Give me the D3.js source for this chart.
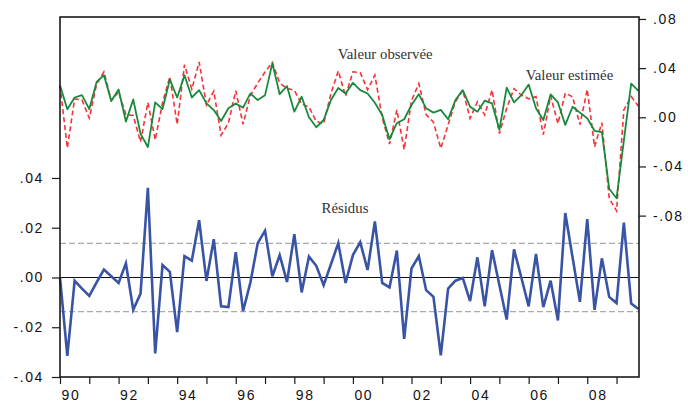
<!DOCTYPE html>
<html>
<head>
<meta charset="utf-8">
<script src="https://cdn.jsdelivr.net/npm/d3@7"></script>
<style>
  html, body { margin: 0; padding: 0; background: #fff; }
  svg { display: block; }
</style>
</head>
<body>
<svg id="chart" width="688" height="403"></svg>
<script>
// ---- data (quarterly, 1990Q1 – 2009Q4) ----
const startYear = 1990;
const nQuarters = 80;
const periods = d3.range(nQuarters).map(i => startYear + i / 4);

const residuals = [
  0.000, -0.0315, -0.0013, -0.0045, -0.0074, -0.0020, 0.0032, 0.0005, -0.0022, 0.0057,
  -0.0130, -0.0065, 0.0360, -0.0305, 0.0050, 0.0023, -0.0220, 0.0086, 0.0068, 0.0230,
  -0.0014, 0.0154, -0.0116, -0.0119, 0.0102, -0.0135, -0.0020, 0.0138, 0.0188, 0.0005,
  0.0090, -0.0018, 0.0174, -0.0060, 0.0084, 0.0047, -0.0031, 0.0053, 0.0138, -0.0022,
  0.0090, 0.0142, 0.0030, 0.0225, -0.0022, -0.0040, 0.0108, -0.0247, 0.0036, 0.0086,
  -0.0051, -0.0078, -0.0313, -0.0045, -0.0013, -0.0002, -0.0095, 0.0081, -0.0116, 0.0110,
  -0.0030, -0.0169, 0.0113, 0.0000, -0.0116, 0.0095, -0.0119, -0.0013, -0.0173, 0.0259,
  0.0080, -0.0098, 0.0235, -0.0130, 0.0077, -0.0078, -0.0103, 0.0221, -0.0105, -0.0127
];

const actual = [
  0.0260, -0.0250, 0.0150, 0.0140, -0.0007, 0.0270, 0.0370, 0.0137, 0.0204, 0.0022,
  0.0015, -0.0200, 0.0120, -0.0184, 0.0117, 0.0330, -0.0059, 0.0428, 0.0229, 0.0450,
  0.0099, 0.0213, -0.0146, -0.0046, 0.0216, -0.0057, 0.0178, 0.0278, 0.0368, 0.0446,
  0.0278, 0.0235, 0.0220, 0.0107, 0.0084, -0.0034, -0.0053, 0.0193, 0.0377, 0.0172,
  0.0370, 0.0363, 0.0224, 0.0343, -0.0003, -0.0218, 0.0060, -0.0263, 0.0136, 0.0274,
  0.0022, -0.0040, -0.0253, -0.0061, 0.0127, 0.0219, -0.0009, 0.0127, 0.0019, 0.0223,
  -0.0132, 0.0073, 0.0234, 0.0180, 0.0150, 0.0168, -0.0141, 0.0173, -0.0052, 0.0197,
  0.0166, -0.0060, 0.0227, -0.0240, -0.0044, -0.0659, -0.0762, 0.0060, 0.0169, 0.0090
];

const fitted = [
  0.0261, 0.0065, 0.0161, 0.0180, 0.0067, 0.0288, 0.0342, 0.0132, 0.0226, -0.0035,
  0.0145, -0.0135, -0.0242, 0.0121, 0.0067, 0.0307, 0.0161, 0.0342, 0.0161, 0.0221,
  0.0113, 0.0059, -0.0030, 0.0073, 0.0113, 0.0078, 0.0194, 0.0140, 0.0180, 0.0441,
  0.0188, 0.0253, 0.0046, 0.0167, 0.0000, -0.0081, -0.0022, 0.0140, 0.0239, 0.0194,
  0.0280, 0.0221, 0.0194, 0.0118, 0.0019, -0.0178, -0.0048, -0.0016, 0.0100, 0.0188,
  0.0073, 0.0038, 0.0060, -0.0016, 0.0140, 0.0221, 0.0086, 0.0046, 0.0135, 0.0113,
  -0.0102, 0.0242, 0.0121, 0.0180, 0.0266, 0.0073, -0.0022, 0.0186, 0.0121, -0.0062,
  0.0086, 0.0038, -0.0008, -0.0110, -0.0121, -0.0581, -0.0659, -0.0190, 0.0274, 0.0215
];

const residualSE = 0.0137;

const leftTicks = [-0.04, -0.02, 0.00, 0.02, 0.04];
const leftTickLabels = ["-.04", "-.02", ".00", ".02", ".04"];
const rightTicks = [-0.08, -0.04, 0.00, 0.04, 0.08];
const rightTickLabels = ["-.08", "-.04", ".00", ".04", ".08"];
const yearTicks = d3.range(1990, 2010);
const yearLabels = ["90","","92","","94","","96","","98","","00","","02","","04","","06","","08",""];

const labelActual = "Valeur observée";
const labelFitted = "Valeur estimée";
const labelResid = "Résidus";

// ---- layout ----
const svg = d3.select("#chart");
const L = 60, R = 639, T = 17, B = 377;

const x = d3.scaleLinear().domain([1990, 2009.75]).range([L, R - 0.5]);
const yL = d3.scaleLinear().domain([-0.04, 0.1047]).range([B, T]);
const yR = d3.scaleLinear().domain([-0.2113, 0.0816]).range([B, T]);

const tickFont = "'Liberation Sans', Arial, sans-serif";
const noteFont = "'Liberation Serif', 'Times New Roman', serif";

// reference lines
svg.append("line")
  .attr("x1", L).attr("x2", R).attr("y1", yL(0)).attr("y2", yL(0))
  .attr("stroke", "#111").attr("stroke-width", 1.2);
[residualSE, -residualSE].forEach(v => {
  svg.append("line")
    .attr("x1", L).attr("x2", R).attr("y1", yL(v)).attr("y2", yL(v))
    .attr("stroke", "#aaa").attr("stroke-width", 1.2)
    .attr("stroke-dasharray", "6,3");
});

// series
const lineL = d3.line().x((d, i) => x(periods[i])).y(d => yL(d));
const lineR = d3.line().x((d, i) => x(periods[i])).y(d => yR(d));

svg.append("path").datum(actual)
  .attr("d", lineR).attr("fill", "none")
  .attr("stroke", "#f5323a").attr("stroke-width", 1.6)
  .attr("stroke-dasharray", "5,3");

svg.append("path").datum(fitted)
  .attr("d", lineR).attr("fill", "none")
  .attr("stroke", "#178a3c").attr("stroke-width", 1.8)
  .attr("stroke-linejoin", "round");

svg.append("path").datum(residuals)
  .attr("d", lineL).attr("fill", "none")
  .attr("stroke", "#3954a5").attr("stroke-width", 2.6)
  .attr("stroke-linejoin", "miter");

// frame
svg.append("rect")
  .attr("x", L).attr("y", T).attr("width", R - L).attr("height", B - T)
  .attr("fill", "none").attr("stroke", "#1a1a1a").attr("stroke-width", 1.6);

// axes
function styleAxis(g) {
  g.select(".domain").remove();
  g.selectAll(".tick line").attr("stroke", "#1a1a1a").attr("stroke-width", 1.2);
  g.selectAll(".tick text")
    .attr("fill", "#111")
    .style("font-family", tickFont)
    .style("font-size", "14px")
    .style("letter-spacing", "1.6px");
}

const axL = d3.axisLeft(yL).tickValues(leftTicks)
  .tickFormat((d, i) => leftTickLabels[i]).tickSize(8).tickPadding(8);
svg.append("g").attr("transform", `translate(${L},0)`).call(axL).call(styleAxis);

const axR = d3.axisRight(yR).tickValues(rightTicks)
  .tickFormat((d, i) => rightTickLabels[i]).tickSize(7).tickPadding(7);
svg.append("g").attr("transform", `translate(${R},0)`).call(axR).call(styleAxis);

const axB = d3.axisBottom(x).tickValues(yearTicks)
  .tickFormat((d, i) => yearLabels[i]).tickSize(7).tickPadding(6);
const gB = svg.append("g").attr("transform", `translate(0,${B})`).call(axB).call(styleAxis);
gB.selectAll(".tick text").attr("text-anchor", "start").attr("x", 1);

// annotations
function note(txt, xv, yv) {
  svg.append("text")
    .attr("x", xv).attr("y", yv)
    .attr("fill", "#333")
    .style("font-family", noteFont)
    .style("font-size", "14.8px")
    .text(txt);
}
note(labelActual, x(1999.48), yR(0.0473));
note(labelFitted, x(2005.9), yR(0.0305));
note(labelResid, x(1998.93), yL(0.0259));
</script>
</body>
</html>
